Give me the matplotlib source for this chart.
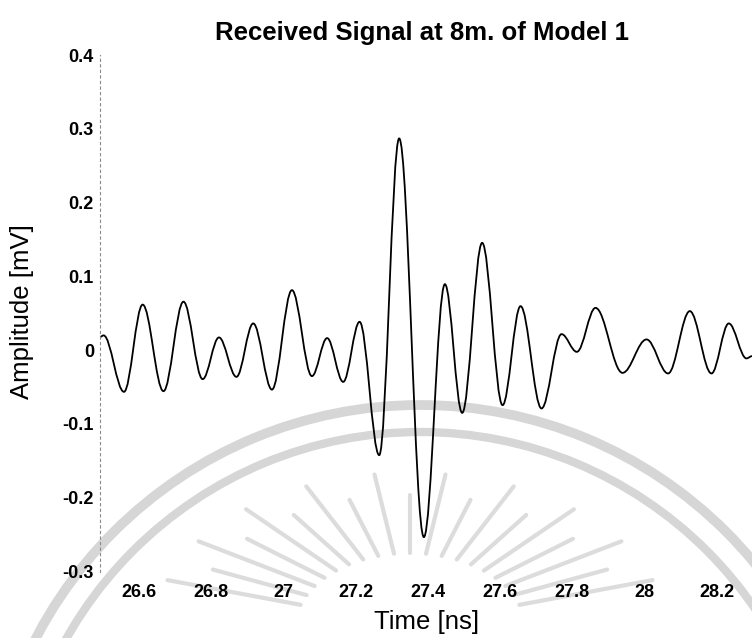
import numpy as np
import matplotlib
matplotlib.use("Agg")
import matplotlib.pyplot as plt
from matplotlib.path import Path
from matplotlib.patches import PathPatch, Arc

# Received pulse: time [ns] and amplitude [mV] at the turning points of the trace
time_ns = [26.4925, 26.502, 26.5585, 26.6102, 26.6678, 26.7232, 26.7763, 26.8215,
           26.8699, 26.9164, 26.9682, 27.0235, 27.0789, 27.1210, 27.1655, 27.2109,
           27.2652, 27.3205, 27.3889, 27.4471, 27.4950, 27.5503, 27.6068, 27.6566,
           27.7147, 27.7701, 27.8125, 27.8642, 27.9390, 28.0054, 28.0652, 28.1253,
           28.1853, 28.2332, 28.2822, 28.2975]
amplitude_mv = [0.018, 0.020, -0.0565, 0.0617, -0.0556, 0.0657, -0.0393, 0.0172,
                -0.0362, 0.0362, -0.0535, 0.0813, -0.0352, 0.0163, -0.0430, 0.0384,
                -0.1423, 0.2869, -0.2534, 0.0894, -0.0850, 0.1454, -0.0745, 0.0596,
                -0.0790, 0.0217, -0.0023, 0.0573, -0.0308, 0.0145, -0.0316, 0.0529,
                -0.0316, 0.0362, -0.0112, -0.0081]

xtick_values = [26.6, 26.8, 27.0, 27.2, 27.4, 27.6, 27.8, 28.0, 28.2]
xtick_labels = ["26.6", "26.8", "27", "27.2", "27.4", "27.6", "27.8", "28", "28.2"]
ytick_values = [-0.3, -0.2, -0.1, 0.0, 0.1, 0.2, 0.3, 0.4]
ytick_labels = ["-0.3", "-0.2", "-0.1", "0", "0.1", "0.2", "0.3", "0.4"]

W, H = 752, 638
fig = plt.figure(figsize=(W / 100, H / 100), dpi=100)

# faint seal printed behind the plot (pixel coordinates of the page)
bg = fig.add_axes([0, 0, 1, 1], zorder=0)
bg.set_xlim(0, W)
bg.set_ylim(H, 0)
bg.axis("off")
seal = "#d6d6d6"
for diam, lw in ((866, 7.0), (812, 6.0)):
    bg.add_patch(Arc((420, 838), diam, diam, theta1=0, theta2=360,
                     color=seal, linewidth=lw))
cx, cy = 410, 628
for i, ang in enumerate(np.linspace(18, 162, 19)):
    a = np.deg2rad(ang)
    scale = 1.0 if i % 2 == 0 else 0.86
    x0, y0 = cx + 115 * np.cos(a), cy - 75 * np.sin(a)
    x1, y1 = cx + 255 * scale * np.cos(a), cy - 155 * scale * np.sin(a)
    bg.plot([x0, x1], [y0, y1], color="#dcdcdc", linewidth=3.0,
            solid_capstyle="round")

ax = fig.add_axes([99.5 / W, 66.5 / H, (W - 99.5) / W, 516.5 / H], zorder=1)
ax.patch.set_alpha(0)
ax.set_xlim(26.4907, 28.2975)
ax.set_ylim(-0.3, 0.4)

# smooth trace through the turning points (horizontal Bezier handles)
k = 0.36
verts = [(time_ns[0], amplitude_mv[0])]
codes = [Path.MOVETO]
for (t0, a0), (t1, a1) in zip(zip(time_ns[:-1], amplitude_mv[:-1]),
                              zip(time_ns[1:], amplitude_mv[1:])):
    dt = t1 - t0
    verts += [(t0 + k * dt, a0), (t1 - k * dt, a1), (t1, a1)]
    codes += [Path.CURVE4] * 3
trace = PathPatch(Path(verts, codes), facecolor="none", edgecolor="black",
                  linewidth=1.3, transform=ax.transData, clip_on=False)
ax.add_patch(trace)

font = "Liberation Sans"
ax.set_xticks(xtick_values)
ax.set_xticklabels(xtick_labels, fontfamily=font, fontweight="bold", fontsize=13)
ax.set_yticks(ytick_values)
ax.set_yticklabels(ytick_labels, fontfamily=font, fontweight="bold", fontsize=13)
ax.tick_params(axis="x", length=0, pad=9)
ax.tick_params(axis="y", length=0, pad=4)

for side in ("top", "right", "bottom"):
    ax.spines[side].set_visible(False)
ax.spines["left"].set_color("#8a8a8a")
ax.spines["left"].set_linewidth(0.8)
ax.spines["left"].set_linestyle((0, (2, 3)))

fig.text(422 / W, 1 - 33 / H, "Received Signal at 8m. of Model 1",
         ha="center", va="center", fontfamily=font, fontweight="bold", fontsize=18.5)
fig.text(22 / W, 1 - 312 / H, "Amplitude [mV]", rotation=90, ha="center",
         va="center", fontfamily=font, fontsize=18.5)
fig.text(427 / W, 1 - 622 / H, "Time [ns]", ha="center", va="center",
         fontfamily=font, fontsize=18.5)

fig.savefig("out.png", dpi=100, facecolor="white")
